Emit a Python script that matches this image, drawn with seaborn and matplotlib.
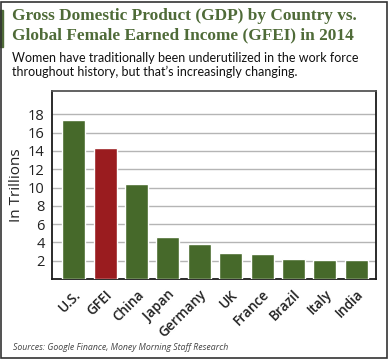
import matplotlib
matplotlib.use("Agg")
import matplotlib.pyplot as plt
import seaborn as sns
import pandas as pd
from matplotlib.patches import Rectangle

countries = ["U.S.", "GFEI", "China", "Japan", "Germany", "UK", "France", "Brazil", "Italy", "India"]
values = [17.4, 14.35, 10.35, 4.6, 3.85, 2.85, 2.75, 2.2, 2.05, 2.05]
yticks = [2, 4, 6, 8, 10, 12, 14, 16, 18]

GREEN = "#46692a"
RED = "#9a1c1f"
TITLE_GREEN = "#4f6b38"

sns.set_theme(style="white")
plt.rcParams["font.family"] = ["Open Sans", "DejaVu Sans"]

df = pd.DataFrame({"country": countries, "value": values})
palette = {c: (RED if c == "GFEI" else GREEN) for c in countries}

fig = plt.figure(figsize=(3.9, 3.59), dpi=100)
ax = fig.add_axes([51.5 / 390, 1 - 279 / 359, (376 - 51.5) / 390, (279 - 91) / 359])

sns.barplot(data=df, x="country", y="value", hue="country", palette=palette,
            width=0.73, saturation=1, legend=False, ax=ax, zorder=3)

ax.set_xlim(-0.71, 9.63)
ax.set_ylim(0, 20.55)
ax.set_yticks(yticks)
ax.set_yticklabels([str(t) for t in yticks], fontsize=10.5, color="#222222")
ax.yaxis.grid(True, color="#b5b5b5", linewidth=1.0, zorder=0)
ax.set_axisbelow(True)
ax.tick_params(axis="both", length=0, pad=5)
ax.set_xlabel("")
ax.set_ylabel("In Trillions", fontsize=11, color="#222222", labelpad=3)
ax.set_xticks(range(len(countries)))
ax.set_xticklabels(countries, rotation=45, ha="right", rotation_mode="anchor",
                   fontsize=9.8, fontweight="semibold", color="#222222")
ax.tick_params(axis="x", pad=6)
for s in ["left", "bottom", "right"]:
    ax.spines[s].set_color("#1a1a1a")
    ax.spines[s].set_linewidth(1.3)
ax.spines["top"].set_color("#555555")
ax.spines["top"].set_linewidth(1.3)

# Titles
fig.text(12 / 390, 1 - 8 / 359, "Gross Domestic Product (GDP) by Country vs.\nGlobal Female Earned Income (GFEI) in 2014",
         family=["Liberation Serif", "DejaVu Serif"], fontweight="bold", fontsize=12.4,
         color=TITLE_GREEN, va="top", ha="left", linespacing=1.3)
fig.text(12 / 390, 1 - 52 / 359, "Women have traditionally been underutilized in the work force\nthroughout history, but that\u2019s increasingly changing.",
         family=["Lato", "DejaVu Sans"], fontsize=9.0, color="#111111", va="top", ha="left", linespacing=1.2)
fig.text(13 / 390, 1 - 347 / 359, "Sources: Google Finance, Money Morning Staff Research",
         fontsize=6.3, style="italic", color="#444444", va="center", ha="left")

# Green accent bar and figure border
fig.patches.append(Rectangle((0, 1 - 47 / 359), 3 / 390, 37 / 359, transform=fig.transFigure,
                             color=TITLE_GREEN, zorder=5))
fig.patches.append(Rectangle((0.5 / 390, 1.5 / 359), 386 / 390, 356 / 359, transform=fig.transFigure,
                             fill=False, edgecolor="#333333", linewidth=1.2, zorder=5))

fig.savefig("out.png", dpi=100)
